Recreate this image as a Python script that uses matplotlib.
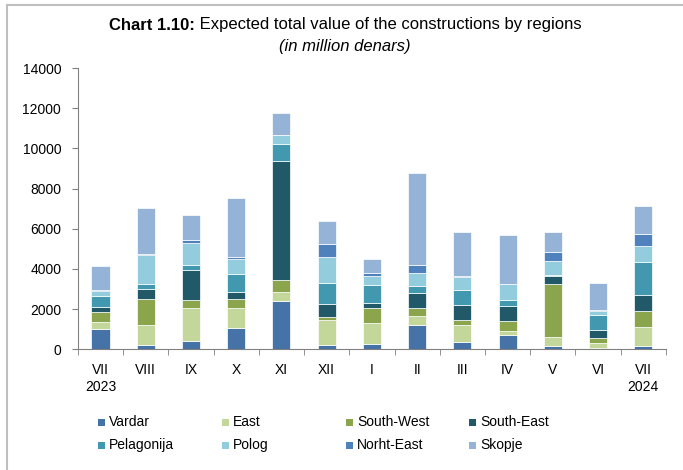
import matplotlib.pyplot as plt
import numpy as np
from matplotlib.lines import Line2D
from matplotlib.patches import Rectangle

plt.rcParams['font.family'] = ['Liberation Sans', 'DejaVu Sans']

# Месяцы (июль 2023 - июль 2024)
months = ["VII\n2023", "VIII", "IX", "X", "XI", "XII", "I", "II", "III", "IV", "V", "VI", "VII\n2024"]

# Значения по регионам, млн денаров
vardar = [1030, 200, 415, 1080, 2410, 215, 280, 1210, 365, 730, 165, 65, 165]
east = [330, 1010, 1660, 995, 450, 1230, 1030, 430, 845, 185, 430, 235, 930]
south_west = [480, 1280, 400, 430, 600, 165, 745, 415, 250, 500, 2640, 280, 830]
south_east = [280, 530, 1495, 365, 5910, 665, 265, 765, 765, 715, 430, 365, 780]
pelagonija = [530, 235, 235, 895, 865, 1030, 880, 330, 730, 330, 35, 765, 1645]
polog = [265, 1445, 1080, 715, 430, 1295, 430, 630, 630, 765, 680, 215, 795]
north_east = [50, 65, 135, 135, 20, 650, 185, 430, 65, 0, 480, 35, 600]
skopje = [1160, 2275, 1260, 2920, 1060, 1145, 665, 4580, 2190, 2475, 995, 1345, 1375]

series = [
    ("Vardar", vardar, "#4572A7"),
    ("East", east, "#C4D79B"),
    ("South-West", south_west, "#8AA54C"),
    ("South-East", south_east, "#215968"),
    ("Pelagonija", pelagonija, "#4198AF"),
    ("Polog", polog, "#93CDDD"),
    ("Norht-East", north_east, "#4F81BD"),
    ("Skopje", skopje, "#95B3D7"),
]

W, H = 683, 470
fig = plt.figure(figsize=(W / 100, H / 100), dpi=100)
ax = fig.add_axes([0.114, 0.257, 0.861, 0.598])

x = np.arange(len(months))
bottom = np.zeros(len(months))
for name, vals, color in series:
    ax.bar(x, vals, 0.4, bottom=bottom, color=color, edgecolor="white", linewidth=0.5, label=name)
    bottom += np.array(vals)

ax.set_xlim(-0.5, len(months) - 0.5)
ax.set_ylim(0, 14000)
ax.set_yticks(range(0, 14001, 2000))
ax.tick_params(axis="y", labelsize=10, length=4, color="#808080", pad=8)

ax.set_xticks(x)
ax.set_xticklabels(months, fontsize=10, linespacing=1.3)
ax.tick_params(axis="x", length=0, pad=10)
ax.set_xticks(np.arange(-0.5, len(months), 1), minor=True)
ax.tick_params(axis="x", which="minor", length=4, color="#808080", direction="out")

for s in ["top", "right"]:
    ax.spines[s].set_visible(False)
for s in ["left", "bottom"]:
    ax.spines[s].set_color("#808080")

# Заголовок: жирная часть + обычная часть
fig.canvas.draw()
renderer = fig.canvas.get_renderer()
t1 = fig.text(0, 1 - 25 / H, "Chart 1.10:", ha="left", va="center", fontsize=12, fontweight="bold")
t2 = fig.text(0, 1 - 25 / H, " Expected total value of the constructions by regions",
              ha="left", va="center", fontsize=12)
w1 = t1.get_window_extent(renderer).width
w2 = t2.get_window_extent(renderer).width
x0 = (345 - (w1 + w2) / 2) / W
t1.set_x(x0)
t2.set_x(x0 + w1 / W)
fig.text(345 / W, 1 - 47 / H, "(in million denars)", ha="center", va="center", fontsize=12, style="italic")

# Легенда (ряды как в оригинале)
col_x = [98, 222, 346, 469]
row_y = [422, 445]
for i, (name, _, color) in enumerate(series):
    px = col_x[i % 4]
    py = row_y[i // 4]
    fig.add_artist(Rectangle((px / W, 1 - (py + 3.5) / H), 7 / W, 7 / H,
                             facecolor=color, edgecolor="none", transform=fig.transFigure))
    fig.text((px + 11) / W, 1 - py / H, name, ha="left", va="center", fontsize=10)

# Рамка
fig.add_artist(Line2D([0.0103, 0.0103], [0, 0.989], color="#BFBFBF", lw=1.5, transform=fig.transFigure))
fig.add_artist(Line2D([0.0103, 1.0], [0.989, 0.989], color="#BFBFBF", lw=1.5, transform=fig.transFigure))

fig.savefig("out.png", dpi=100)
